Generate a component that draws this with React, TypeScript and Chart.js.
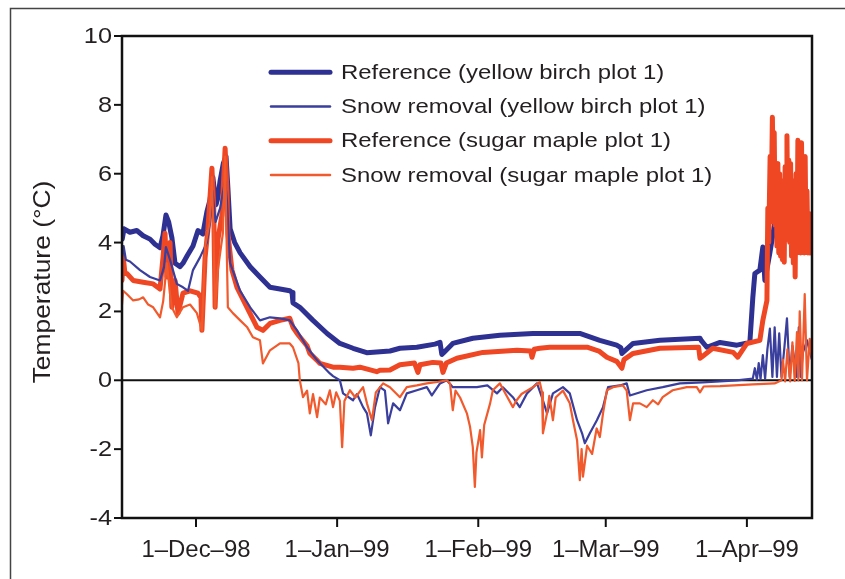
import React, { useEffect, useRef } from "react";
import { Chart, registerables } from "chart.js";

Chart.register(...registerables);

// Day offsets are counted from 1 Dec 1998 (day 0).
const seriesLabels = [
  "Reference (yellow birch plot 1)",
  "Snow removal (yellow birch plot 1)",
  "Reference (sugar maple plot 1)",
  "Snow removal (sugar maple plot 1)",
];

const xTickDays = [0, 31, 62, 90, 121];
const xTickLabels = ["1\u2013Dec\u201398", "1\u2013Jan\u201399", "1\u2013Feb\u201399", "1\u2013Mar\u201399", "1\u2013Apr\u201399"];
const yTickValues = [-4, -2, 0, 2, 4, 6, 8, 10];
const yTickLabels = ["-4", "-2", "0", "2", "4", "6", "8", "10"];
const yTitle = "Temperature (\u00B0C)";

const refBirchDays = [-16.2,-15.8,-14.5,-13.0,-11.6,-10.1,-9.0,-7.9,-7.25,-6.6,-6.0,-5.3,-4.6,-3.5,-2.85,-2.0,-0.66,0.44,1.5,2.4,3.1,3.7,4.4,4.8,5.3,6.0,6.6,7.0,7.5,8.5,9.7,11.9,14.05,16.25,18.45,20.6,21.1,21.3,22.8,25.7,28.8,31.6,34.5,37.5,39.7,42.6,44.8,48.5,52.5,53.6,54.0,54.4,56.4,60.8,66.75,74.0,77.7,84.3,88.7,92.4,93.3,93.55,96.0,101.9,110.7,111.0,112.2,115.1,118.8,121.65,122.3,122.75,123.85,124.5,124.95,126.05,127.1,127.6,128.5,129.5,130.5,131.5,132.5,133.5,134.5,135.3];
const refBirchTemps = [4.1,4.4,4.3,4.35,4.2,4.1,3.95,3.85,4.2,4.8,4.6,4.15,3.4,3.3,3.4,3.6,3.9,4.35,4.25,4.9,5.25,5.9,5.1,5.3,5.8,6.3,6.5,5.6,4.4,4.0,3.7,3.3,3.0,2.7,2.65,2.6,2.55,2.25,2.12,1.74,1.36,1.07,0.93,0.8,0.82,0.85,0.93,0.96,1.05,1.1,0.75,0.8,1.07,1.22,1.31,1.36,1.36,1.36,1.16,1.02,0.95,0.78,1.07,1.16,1.22,1.15,0.96,1.1,1.02,1.1,2.4,3.1,3.2,3.87,2.9,3.7,4.55,4.2,4.4,4.6,4.5,4.7,4.6,4.5,4.4,4.2];

const snowBirchDays = [-16.2,-15.9,-15.4,-14.5,-12.3,-10.1,-7.9,-7.0,-6.6,-5.7,-4.2,-2.85,-1.75,-0.66,0.88,2.4,3.1,3.6,4.3,5.3,6.4,6.8,7.5,9.7,11.9,14.05,16.25,18.45,20.6,22.2,24.4,26.6,29.4,30.1,31.6,32.3,34.5,35.35,36.7,37.55,38.4,39.3,40.4,41.5,42.2,43.3,44.8,46.3,48.5,50.7,51.8,53.6,55.1,56.4,59.5,61.7,64.0,66.1,67.4,69.6,71.1,72.7,74.9,76.2,77.1,78.4,80.6,82.1,83.7,84.8,85.4,86.5,88.05,89.4,90.5,93.1,94.6,95.3,99.0,102.5,106.3,111.3,118.8,122.3,122.75,123.2,123.6,124.0,124.5,125.0,125.5,126.05,126.6,127.1,127.6,128.1,128.6,129.2,129.8,130.4,131.0,131.95,132.4,132.8,133.3,134.2,134.9,135.3];
const snowBirchTemps = [3.6,3.9,3.5,3.45,3.2,3.0,2.9,3.3,3.87,3.5,2.8,2.7,2.6,3.2,3.57,4.0,4.6,5.5,4.6,5.0,5.8,5.2,3.4,2.6,2.12,1.74,1.83,1.8,1.74,1.45,0.96,0.58,0.2,0.12,0.0,-0.38,-0.58,-0.4,-0.78,-0.96,-1.6,-0.8,-0.2,-0.3,-1.25,-0.67,-0.87,-0.38,-0.29,-0.2,-0.44,-0.09,0.0,-0.2,-0.2,-0.2,-0.15,-0.38,-0.2,-0.49,-0.78,-0.38,-0.09,-0.58,-0.96,-0.38,-0.2,-0.38,-1.16,-1.54,-1.83,-1.54,-1.16,-0.78,-0.2,-0.15,-0.09,-0.44,-0.29,-0.2,-0.09,-0.06,0.0,0.05,0.35,0.02,0.5,0.03,0.73,0.05,0.9,1.5,0.1,1.54,0.1,1.36,0.1,0.9,1.8,0.1,1.0,0.1,1.54,0.1,0.8,1.16,0.78,0.6];

const refMapleDays = [-16.25,-16.0,-15.6,-15.15,-13.8,-11.6,-9.4,-7.9,-7.25,-6.8,-6.4,-5.7,-5.3,-4.6,-3.95,-2.85,-1.3,0.44,1.1,1.3,2.0,2.6,3.5,3.9,4.2,4.8,5.7,6.4,6.8,7.0,7.9,9.0,11.2,13.4,14.7,16.25,18.45,20.6,21.3,22.2,24.4,25.0,26.6,27.2,30.1,31.6,34.5,36.0,39.7,40.4,42.6,44.8,48.0,48.75,49.2,52.0,53.8,54.25,55.0,57.3,63.0,70.5,73.5,73.8,74.3,75.5,77.7,85.9,88.5,90.25,92.4,93.55,94.0,96.0,101.9,110.4,110.7,111.3,113.5,118.0,119.0,121.0,123.85,124.5,125.4,125.6,125.8,126.1,126.3,126.6,126.8,127.0,127.2,127.4,127.6,127.8,128.0,128.2,128.4,128.6,128.8,129.0,129.2,129.4,129.6,129.8,130.0,130.2,130.4,130.6,130.8,131.0,131.2,131.4,131.6,131.8,132.0,132.2,132.4,132.6,132.8,133.0,133.2,133.4,133.6,133.8,134.0,134.2,134.4,134.6,134.8,135.0,135.3];
const refMapleTemps = [2.9,3.6,3.1,3.1,2.9,2.85,2.8,2.65,3.57,4.27,3.0,4.0,2.12,2.9,1.95,2.53,2.6,2.53,2.4,1.45,3.57,4.36,6.16,5.0,2.12,4.07,4.8,6.74,5.5,4.27,3.2,2.7,2.12,1.54,1.45,1.65,1.74,1.8,1.54,1.36,1.0,0.78,0.58,0.49,0.38,0.38,0.35,0.38,0.25,0.29,0.3,0.45,0.5,0.23,0.45,0.52,0.5,0.23,0.5,0.64,0.81,0.87,0.85,0.67,0.9,0.93,0.96,0.96,0.85,0.67,0.55,0.35,0.6,0.78,0.93,0.96,0.64,0.7,0.93,0.81,0.67,1.07,1.16,1.74,2.32,5.0,4.0,6.5,4.6,7.64,5.5,7.2,4.5,6.3,3.9,6.3,3.7,6.0,3.6,5.8,3.5,5.6,3.43,6.2,4.1,7.1,4.2,6.4,4.0,6.3,3.6,5.8,3.4,5.6,3.0,6.0,3.7,6.97,3.8,6.8,3.7,6.9,3.8,6.5,3.7,6.5,3.8,5.5,3.7,4.85,3.7,4.6,3.9];

const snowMapleDays = [-16.25,-16.0,-15.15,-13.8,-12.5,-11.6,-10.5,-9.4,-7.9,-7.2,-6.4,-5.7,-5.3,-4.2,-2.85,-1.3,0.2,1.3,2.0,3.0,3.5,3.9,4.2,4.8,5.9,6.4,6.8,7.0,8.1,9.7,11.2,12.5,14.05,14.7,16.25,18.45,20.6,21.3,22.5,22.8,23.5,24.4,25.0,25.7,26.6,27.2,28.5,29.4,30.1,30.8,31.6,32.1,32.6,33.8,35.0,36.7,37.55,38.65,39.5,41.1,42.6,44.8,46.3,48.5,50.7,53.0,55.1,55.8,56.4,57.0,58.0,59.5,60.2,60.8,61.25,61.6,62.4,62.8,63.3,64.6,65.2,66.75,67.8,69.6,70.3,71.5,74.0,75.5,76.0,76.2,77.1,77.6,78.4,79.0,80.6,82.1,82.8,83.7,84.3,84.7,85.0,85.9,87.0,88.0,88.7,89.4,90.25,91.6,93.75,94.6,95.3,96.0,97.5,99.0,100.35,101.5,102.5,104.7,107.8,110.0,110.7,111.5,115.1,122.3,127.1,128.6,128.9,129.4,129.9,130.5,131.0,131.5,132.0,132.3,132.6,133.1,133.7,134.2,134.8,135.3];
const snowMapleTemps = [2.2,2.6,2.5,2.32,2.35,2.41,2.2,2.12,1.83,2.3,3.4,2.5,2.12,1.83,2.12,2.2,1.95,1.45,3.87,4.6,5.9,4.0,2.12,3.2,4.27,6.5,3.5,2.12,1.95,1.74,1.55,1.25,1.16,0.49,0.87,1.07,1.07,0.96,0.5,0.0,-0.49,-0.3,-0.96,-0.4,-1.07,-0.5,-0.7,-0.29,-0.78,-0.35,-0.6,-1.94,-0.6,-0.29,-0.5,-0.2,-0.67,-1.16,-0.35,-0.09,-0.2,-0.49,-0.2,-0.15,-0.09,-0.05,0.0,-0.1,-0.87,-0.3,-0.5,-0.96,-1.36,-1.94,-3.1,-2.1,-1.45,-2.24,-1.3,-0.67,-0.29,-0.09,-0.35,-0.78,-0.6,-0.4,-0.2,-0.05,-0.35,-1.54,-0.96,-0.45,-1.16,-0.5,-0.3,-0.67,-1.16,-1.74,-2.9,-2.0,-2.8,-1.9,-2.14,-1.4,-1.65,-0.96,-0.29,-0.2,-0.15,-0.3,-1.16,-0.67,-0.67,-0.78,-0.58,-0.7,-0.49,-0.29,-0.2,-0.2,-0.35,-0.18,-0.17,-0.12,-0.09,0.0,0.6,-0.03,0.9,-0.03,1.1,-0.02,1.4,0.0,2.0,0.0,2.5,0.0,1.2,0.6];

const BLUE = "#2e3192";
const BLUE_THIN = "#3a3e9c";
const ORANGE = "#ef4623";
const ORANGE_THIN = "#f15a2c";
const TEXT = "#231f20";
const FONT = '"Liberation Sans", Arial, Helvetica, sans-serif';

function pts(days: number[], temps: number[]) {
  const n = Math.min(days.length, temps.length);
  const out: { x: number; y: number }[] = [];
  for (let i = 0; i < n; i++) out.push({ x: days[i], y: temps[i] });
  return out;
}

function stretchText(ctx: CanvasRenderingContext2D, text: string, x: number, y: number, align: CanvasTextAlign, sx: number) {
  ctx.save();
  ctx.translate(x, y);
  ctx.scale(sx, 1);
  ctx.textAlign = align;
  ctx.fillText(text, 0, 0);
  ctx.restore();
}

const legendStyle = [
  { color: BLUE, width: 5 },
  { color: BLUE_THIN, width: 2.5 },
  { color: ORANGE, width: 5 },
  { color: ORANGE_THIN, width: 2.5 },
];

const decor = {
  id: "decor",
  beforeDraw(chart: any) {
    const ctx = chart.ctx as CanvasRenderingContext2D;
    ctx.save();
    ctx.fillStyle = "#fff";
    ctx.fillRect(0, 0, chart.width, chart.height);
    ctx.strokeStyle = "#444";
    ctx.lineWidth = 1.5;
    ctx.beginPath();
    ctx.moveTo(10.5, chart.height);
    ctx.lineTo(10.5, 8.5);
    ctx.lineTo(chart.width, 8.5);
    ctx.stroke();
    ctx.restore();
  },
  beforeDatasetsDraw(chart: any) {
    const ctx = chart.ctx as CanvasRenderingContext2D;
    const { left, right } = chart.chartArea;
    const y0 = chart.scales.y.getPixelForValue(0);
    ctx.save();
    ctx.strokeStyle = "#111";
    ctx.lineWidth = 2;
    ctx.beginPath();
    ctx.moveTo(left, y0);
    ctx.lineTo(right, y0);
    ctx.stroke();
    ctx.restore();
  },
  afterDatasetsDraw(chart: any) {
    const ctx = chart.ctx as CanvasRenderingContext2D;
    const { left, right, top, bottom } = chart.chartArea;
    const xs = chart.scales.x;
    const ys = chart.scales.y;
    ctx.save();
    ctx.strokeStyle = "#111";
    ctx.lineWidth = 2.5;
    ctx.strokeRect(left, top, right - left, bottom - top);

    ctx.lineWidth = 2;
    ctx.fillStyle = TEXT;
    ctx.font = `22px ${FONT}`;
    ctx.textBaseline = "middle";
    yTickValues.forEach((v, i) => {
      const py = ys.getPixelForValue(v);
      ctx.beginPath();
      ctx.moveTo(left - 8, py);
      ctx.lineTo(left, py);
      ctx.stroke();
      stretchText(ctx, yTickLabels[i], left - 10, py + 1, "right", 1.15);
    });

    ctx.font = `23px ${FONT}`;
    ctx.textBaseline = "alphabetic";
    xTickDays.forEach((d, i) => {
      const px = xs.getPixelForValue(d);
      ctx.beginPath();
      ctx.moveTo(px, bottom);
      ctx.lineTo(px, bottom + 9);
      ctx.stroke();
      stretchText(ctx, xTickLabels[i], px, 557, "center", 1.04);
    });

    ctx.save();
    ctx.translate(43, 282);
    ctx.rotate(-Math.PI / 2);
    ctx.scale(1.1, 1);
    ctx.font = `24px ${FONT}`;
    ctx.textAlign = "center";
    ctx.textBaseline = "middle";
    ctx.fillText(yTitle, 0, 0);
    ctx.restore();

    ctx.font = `21px ${FONT}`;
    ctx.textBaseline = "middle";
    seriesLabels.forEach((label, i) => {
      const ly = 72.3 + i * 34.2;
      ctx.strokeStyle = legendStyle[i].color;
      ctx.lineWidth = legendStyle[i].width;
      ctx.lineCap = "round";
      ctx.beginPath();
      ctx.moveTo(271, ly);
      ctx.lineTo(330, ly);
      ctx.stroke();
      ctx.fillStyle = TEXT;
      stretchText(ctx, label, 341, ly + 1, "left", 1.14);
    });
    ctx.restore();
  },
};

export default function App() {
  const ref = useRef<HTMLCanvasElement | null>(null);
  useEffect(() => {
    if (!ref.current) return;
    const chart = new Chart(ref.current, {
      type: "line",
      data: {
        datasets: [
          { label: seriesLabels[3], data: pts(snowMapleDays, snowMapleTemps), borderColor: ORANGE_THIN, borderWidth: 2.2, pointRadius: 0, tension: 0, order: 0 },
          { label: seriesLabels[1], data: pts(snowBirchDays, snowBirchTemps), borderColor: BLUE_THIN, borderWidth: 2.2, pointRadius: 0, tension: 0, order: 1 },
          { label: seriesLabels[2], data: pts(refMapleDays, refMapleTemps), borderColor: ORANGE, borderWidth: 5, pointRadius: 0, tension: 0, order: 2 },
          { label: seriesLabels[0], data: pts(refBirchDays, refBirchTemps), borderColor: BLUE, borderWidth: 5, pointRadius: 0, tension: 0, order: 3 },
        ],
      },
      options: {
        responsive: false,
        animation: false,
        devicePixelRatio: 1,
        layout: { padding: { left: 122, top: 36, right: 33, bottom: 61 } },
        scales: {
          x: { type: "linear", min: -16.25, max: 135.3, display: false },
          y: { type: "linear", min: -4, max: 10, display: false },
        },
        plugins: { legend: { display: false }, tooltip: { enabled: false } },
        elements: { line: { borderJoinStyle: "round", borderCapStyle: "round" } },
      },
      plugins: [decor],
    });
    return () => chart.destroy();
  }, []);
  return (
    <div style={{ position: "absolute", left: 0, top: 0, width: 845, height: 579, background: "#fff" }}>
      <canvas ref={ref} width={845} height={579} style={{ display: "block", width: 845, height: 579 }} />
    </div>
  );
}
